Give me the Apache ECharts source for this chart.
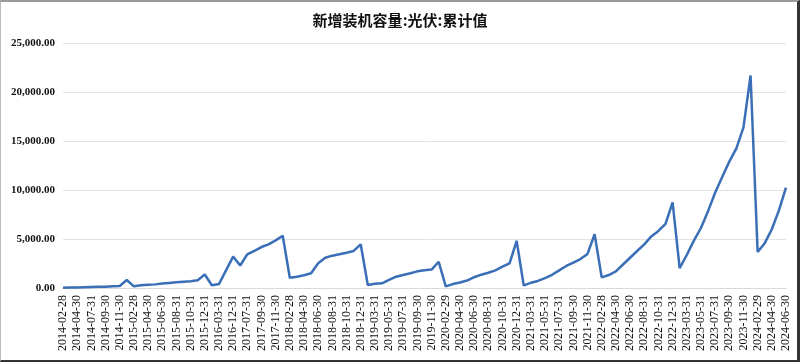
<!DOCTYPE html>
<html>
<head>
<meta charset="utf-8">
<script src="https://cdn.jsdelivr.net/npm/echarts@6/dist/echarts.min.js"></script>
<style>
html,body{margin:0;padding:0;background:#fff;}
#wrap{position:relative;width:800px;height:362px;box-sizing:border-box;border-top:2px solid #9a9a9a;border-left:1px solid #bbb;border-right:3px solid #333;border-bottom:2px solid #333;}
#chart{position:absolute;left:-1px;top:-2px;width:800px;height:362px;}
</style>
</head>
<body>
<div id="wrap"><div id="chart"></div></div>
<script>
const titleText = '新增装机容量:光伏:累计值';
const categories = [
  '2014-02-28','2014-03-31','2014-04-30','2014-06-30','2014-07-31','2014-08-31','2014-09-30','2014-10-31','2014-11-30','2014-12-31',
  '2015-02-28','2015-03-31','2015-04-30','2015-05-31','2015-06-30','2015-07-31','2015-08-31','2015-09-30','2015-10-31','2015-11-30','2015-12-31',
  '2016-02-29','2016-03-31','2016-06-30','2016-12-31',
  '2017-06-30','2017-07-31','2017-08-31','2017-09-30','2017-10-31','2017-11-30','2017-12-31',
  '2018-02-28','2018-03-31','2018-04-30','2018-05-31','2018-06-30','2018-07-31','2018-08-31','2018-09-30','2018-10-31','2018-11-30','2018-12-31',
  '2019-02-28','2019-03-31','2019-04-30','2019-05-31','2019-06-30','2019-07-31','2019-08-31','2019-09-30','2019-10-31','2019-11-30','2019-12-31',
  '2020-02-29','2020-03-31','2020-04-30','2020-05-31','2020-06-30','2020-07-31','2020-08-31','2020-09-30','2020-10-31','2020-11-30','2020-12-31',
  '2021-02-28','2021-03-31','2021-04-30','2021-05-31','2021-06-30','2021-07-31','2021-08-31','2021-09-30','2021-10-31','2021-11-30','2021-12-31',
  '2022-02-28','2022-03-31','2022-04-30','2022-05-31','2022-06-30','2022-07-31','2022-08-31','2022-09-30','2022-10-31','2022-11-30','2022-12-31',
  '2023-02-28','2023-03-31','2023-04-30','2023-05-31','2023-06-30','2023-07-31','2023-08-31','2023-09-30','2023-10-31','2023-11-30','2023-12-31',
  '2024-02-29','2024-03-31','2024-04-30','2024-05-31','2024-06-30'
];
const values = [
  20,40,60,80,100,120,140,170,200,820,
  170,280,330,370,450,520,580,640,700,800,1380,
  280,400,1800,3200,
  2300,3440,3780,4180,4460,4860,5340,
  1050,1150,1300,1500,2520,3090,3300,3450,3600,3780,4460,
  300,440,480,820,1150,1330,1500,1700,1800,1880,2680,
  170,400,560,760,1100,1360,1560,1800,2170,2520,4820,
  260,530,720,1000,1350,1800,2250,2600,2950,3480,5488,
  1086,1321,1688,2397,3088,3778,4447,5260,5824,6548,8741,
  2037,3366,4831,6122,7842,9716,11316,12895,14256,16388,21688,
  3672,4574,6000,7915,10248
];
const yMin = 0, yMax = 25000, yStep = 5000;

const chart = echarts.init(document.getElementById('chart'), null, {renderer:'canvas'});
chart.setOption({
  animation:false,
  title:{text:titleText,left:'center',top:8,textStyle:{fontFamily:'Noto Sans CJK SC',fontSize:15,fontWeight:'bold',color:'#111'}},
  grid:{left:63,right:14,top:43,bottom:74,containLabel:false},
  xAxis:{type:'category',data:categories,boundaryGap:false,
    axisLine:{show:true,lineStyle:{color:'#d9d9d9',width:1}},
    axisTick:{show:false},
    axisLabel:{rotate:90,interval:1,margin:7,fontFamily:'Liberation Serif',fontSize:12,color:'#111'}},
  yAxis:{type:'value',min:yMin,max:yMax,interval:yStep,
    axisLine:{show:false},axisTick:{show:false},
    splitLine:{lineStyle:{color:'#e3e3e3',width:1}},
    axisLabel:{margin:8,fontFamily:'Liberation Serif',fontSize:11,fontWeight:'bold',color:'#111',
      formatter:v=>v.toLocaleString('en-US',{minimumFractionDigits:2,maximumFractionDigits:2})}},
  series:[{type:'line',data:values,symbol:'none',lineStyle:{color:'#3a6fb7',width:2.5},itemStyle:{color:'#3a6fb7'}}]
});
</script>
</body>
</html>
